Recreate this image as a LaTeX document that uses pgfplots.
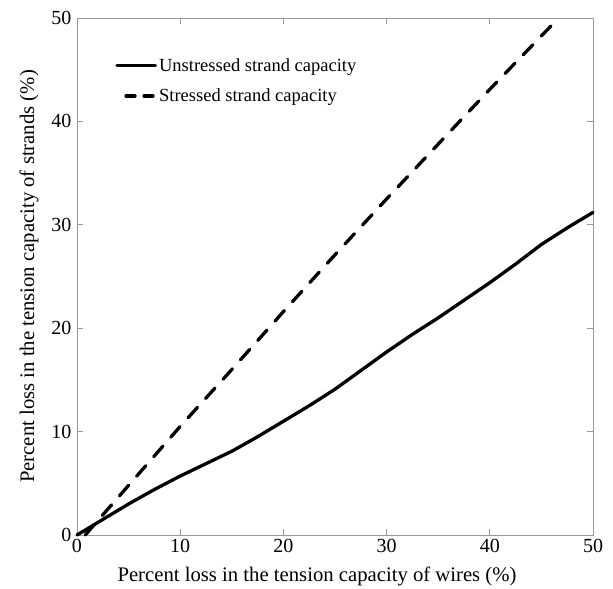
\documentclass[border=0pt]{standalone}
\usepackage{pgfplots}
\pgfplotsset{compat=1.18}
\usepackage{fontspec}
\setmainfont{Liberation Serif}
\begin{document}
\begin{tikzpicture}
\begin{axis}[
  at={(0,0)}, anchor=south west,
  scale only axis, width=516pt, height=517pt,
  xmin=0, xmax=50, ymin=0, ymax=50,
  xtick={0,10,20,30,40,50}, ytick={0,10,20,30,40,50},
  tick align=inside, major tick length=6pt,
  axis line style={draw=black!40, line width=0.8pt},
  tick style={draw=black!40, line width=0.8pt},
  /pgf/number format/assume math mode=true,
  tick label style={font=\fontsize{20}{22}\selectfont},
  xticklabel style={yshift=-1pt},
  yticklabel style={xshift=-2pt},
  xlabel={Percent loss in the tension capacity of wires (\%)},
  ylabel={Percent loss in the tension capacity of strands (\%)},
  label style={font=\fontsize{20.7}{23}\selectfont},
  xlabel style={at={(axis description cs:0.5,0)}, anchor=center, yshift=-41pt, xshift=-18pt},
  ylabel style={at={(axis description cs:0,0.5)}, anchor=center, yshift=48pt},
  legend style={draw=none, fill=none, at={(axis cs:3.7,46.3)}, anchor=north west,
    font=\fontsize{18.5}{20}\selectfont, row sep=12pt, inner sep=0pt,
    /tikz/every even column/.append style={column sep=2pt}},
  legend cell align=left,
  legend image code/.code={\draw[#1] (0cm,0cm) -- (1.35cm,0cm);},
  clip=false,
]
\addplot[black, line width=3.3pt, line cap=round, line join=round] coordinates {
(0,0) (2.5,1.5) (5,3.0) (7.5,4.4) (10,5.7) (12.5,6.9) (15,8.1) (17.5,9.5) (20,11.0) (22.5,12.5) (25,14.1) (27.5,15.9) (30,17.7) (32.5,19.4) (35,21.0) (37.5,22.7) (40,24.4) (42.5,26.2) (45,28.1) (47.5,29.7) (50,31.2)};
\addlegendentry{Unstressed strand capacity}
\addplot[black, line width=3.3pt, line cap=round, dash pattern=on 14pt off 12pt,
  legend image post style={dash pattern=on 9pt off 9pt, dash phase=-9pt}] coordinates {
(0.8,0) (5,4.8) (10,10.5) (15,16.0) (20,21.6) (25,27.1) (30,32.5) (35,37.8) (40,43.1) (46,49.3)};
\addlegendentry{Stressed strand capacity}
\end{axis}
\useasboundingbox (-77pt,-53pt) rectangle (536pt,535pt);
\end{tikzpicture}
\end{document}
